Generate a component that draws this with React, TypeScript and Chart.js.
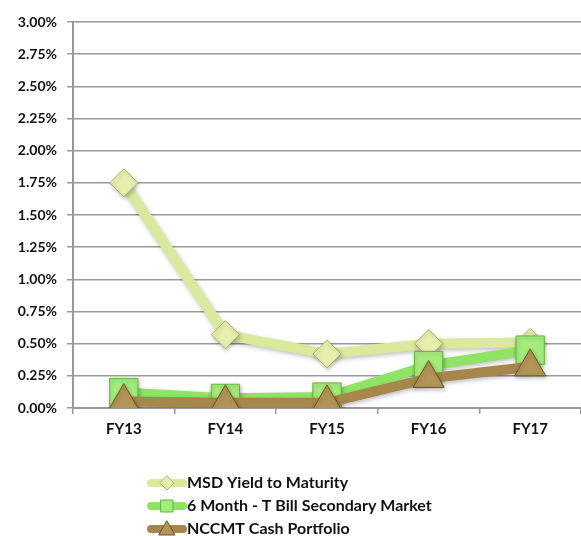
import React, { useEffect, useRef } from "react";
import { Chart, registerables } from "chart.js";

Chart.register(...registerables);

const categories = ["FY13", "FY14", "FY15", "FY16", "FY17"];
const msdYield = [1.75, 0.57, 0.42, 0.5, 0.51];
const tBill = [0.12, 0.075, 0.085, 0.33, 0.45];
const nccmt = [0.05, 0.04, 0.04, 0.23, 0.32];
const seriesNames = ["MSD Yield to Maturity", "6 Month - T Bill Secondary Market", "NCCMT Cash Portfolio"];

const FONT = "Lato, 'Open Sans', sans-serif";

const legendPlugin = {
  id: "vertLegend",
  afterDraw(chart: any) {
    const ctx = chart.ctx;
    const x0 = 147;
    const rowY = [483, 506, 529];
    chart.data.datasets.forEach((ds: any, i: number) => {
      const y = rowY[i];
      ctx.save();
      ctx.strokeStyle = ds.borderColor;
      ctx.lineWidth = 8;
      ctx.lineCap = "round";
      ctx.beginPath();
      ctx.moveTo(x0 + 4, y);
      ctx.lineTo(x0 + 36, y);
      ctx.stroke();
      ctx.fillStyle = ds.pointBackgroundColor;
      ctx.strokeStyle = ds.pointBorderColor;
      ctx.lineWidth = 1;
      const cx = x0 + 20;
      ctx.beginPath();
      if (ds.pointStyle === "rectRot") {
        ctx.moveTo(cx, y - 7);
        ctx.lineTo(cx + 7, y);
        ctx.lineTo(cx, y + 7);
        ctx.lineTo(cx - 7, y);
        ctx.closePath();
      } else if (ds.pointStyle === "rect") {
        ctx.rect(cx - 6, y - 6, 12, 12);
      } else {
        ctx.moveTo(cx, y - 8);
        ctx.lineTo(cx + 8, y + 6);
        ctx.lineTo(cx - 8, y + 6);
        ctx.closePath();
      }
      ctx.fill();
      ctx.stroke();
      ctx.fillStyle = "#111";
      ctx.font = `bold 16px ${FONT}`;
      ctx.textBaseline = "middle";
      ctx.textAlign = "left";
      ctx.fillText(ds.label, x0 + 40, y);
      ctx.restore();
    });
  },
};

const shadowPlugin = {
  id: "shadow",
  beforeDatasetsDraw(chart: any) {
    const ctx = chart.ctx;
    ctx.save();
    ctx.shadowColor = "rgba(0,0,0,0.25)";
    ctx.shadowBlur = 4;
    ctx.shadowOffsetX = 1;
    ctx.shadowOffsetY = 2;
  },
  afterDatasetsDraw(chart: any) {
    chart.ctx.restore();
  },
};

export default function App() {
  const ref = useRef<HTMLCanvasElement>(null);
  useEffect(() => {
    document.body.style.margin = "0";
    const chart = new Chart(ref.current!, {
      type: "line",
      data: {
        labels: categories,
        datasets: [
          {
            label: seriesNames[0],
            data: msdYield,
            borderColor: "#dbe99c",
            backgroundColor: "#dbe99c",
            borderWidth: 10,
            pointStyle: "rectRot",
            pointRadius: 14,
            pointBackgroundColor: "#e6efae",
            pointBorderColor: "#a8b860",
            pointBorderWidth: 1,
            order: 2,
          },
          {
            label: seriesNames[1],
            data: tBill,
            borderColor: "#8fe365",
            backgroundColor: "#8fe365",
            borderWidth: 10,
            pointStyle: "rect",
            pointRadius: 20,
            pointBackgroundColor: "#a6ec7c",
            pointBorderColor: "#5fb83a",
            pointBorderWidth: 1,
            order: 1,
          },
          {
            label: seriesNames[2],
            data: nccmt,
            borderColor: "#a5874b",
            backgroundColor: "#a5874b",
            borderWidth: 10,
            pointStyle: "triangle",
            pointRadius: 18,
            pointBackgroundColor: "#b39457",
            pointBorderColor: "#6e5628",
            pointBorderWidth: 1,
            order: 0,
          },
        ],
      },
      options: {
        responsive: false,
        animation: false,
        layout: { autoPadding: false, padding: { top: 22, left: 0, right: -4, bottom: 0 } },
        plugins: { legend: { display: false }, tooltip: { enabled: false } },
        elements: { line: { tension: 0 } },
        scales: {
          x: {
            offset: true,
            grid: {
              offset: true,
              drawOnChartArea: false,
              drawTicks: true,
              tickLength: 6,
              color: "#999",
              lineWidth: 1.5,
            },
            border: { color: "#999", width: 2 },
            ticks: {
              color: "#111",
              font: { family: FONT, size: 15, weight: "bold" },
              padding: 6,
            },
            afterFit(scale: any) {
              scale.height = 128;
            },
          },
          y: {
            min: 0,
            max: 3,
            grid: { color: "#9a9a9a", lineWidth: 1.5, tickLength: 6 },
            border: { color: "#999", width: 2 },
            ticks: {
              stepSize: 0.25,
              color: "#111",
              font: { family: FONT, size: 14, weight: "bold" },
              padding: 10,
              callback: (v: any) => Number(v).toFixed(2) + "%",
            },
            afterFit(scale: any) {
              scale.width = 73;
            },
          },
        },
      },
      plugins: [shadowPlugin, legendPlugin],
    });
    return () => chart.destroy();
  }, []);
  return <canvas ref={ref} width={581} height={536} style={{ display: "block" }} />;
}
